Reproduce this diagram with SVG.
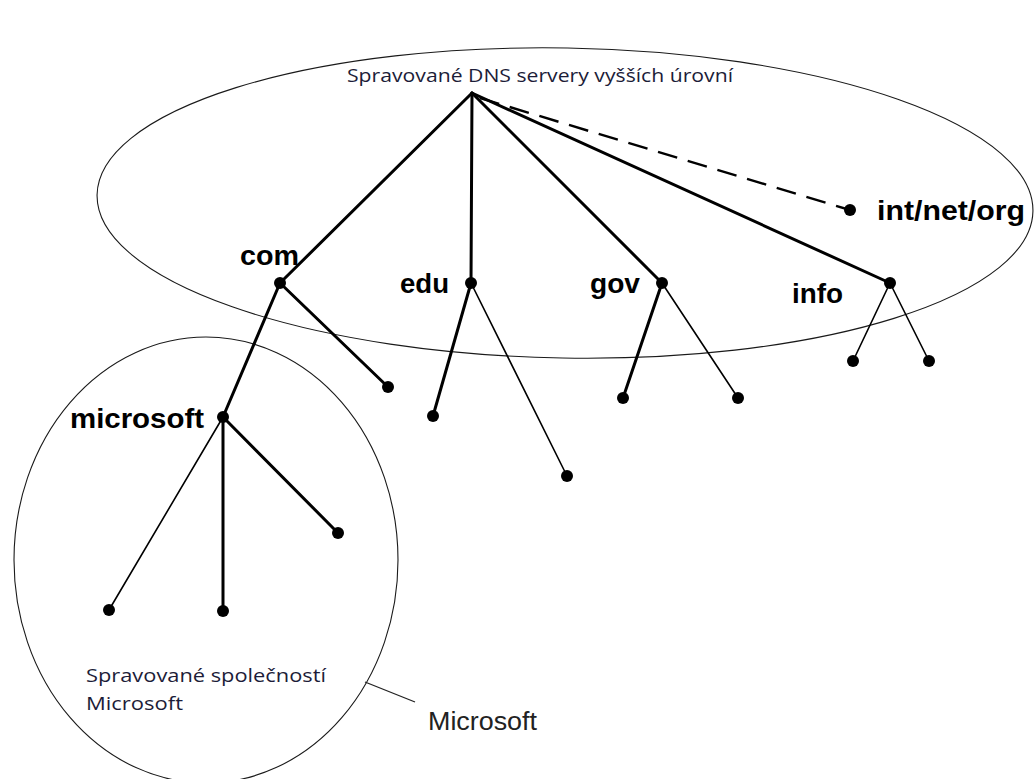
<svg xmlns="http://www.w3.org/2000/svg" width="1035" height="779" viewBox="0 0 1035 779">
<style>
.zone{fill:none;stroke:#1a1a1a;stroke-width:1.1}
.thick{stroke:#000;stroke-width:3;fill:none;stroke-linecap:round}
.thin{stroke:#000;stroke-width:1.6;fill:none;stroke-linecap:round}
.dash{stroke:#000;stroke-width:2.4;fill:none;stroke-dasharray:20 11}
.dot{fill:#000}
.lbl{font-family:"Liberation Sans",Arial,sans-serif;font-weight:bold;font-size:28px;fill:#000}
.note{font-family:"Open Sans","Noto Sans",sans-serif;font-size:19px;fill:#1c1c38}
.ms{font-family:"Liberation Sans",Arial,sans-serif;font-size:25px;fill:#222}
</style>
<rect width="1035" height="779" fill="#fff"/>
<g id="zones">
<ellipse class="zone" cx="565" cy="203" rx="468" ry="155" transform="rotate(1 565 203)"/>
<ellipse class="zone" cx="206" cy="560" rx="192" ry="223"/>
<line x1="365" y1="682" x2="415" y2="702" stroke="#222" stroke-width="1.2"/>
</g>
<g id="connectors">
<line class="thick" x1="472" y1="93" x2="280" y2="283"/>
<line class="thick" x1="472" y1="93" x2="471" y2="283"/>
<line class="thick" x1="472" y1="93" x2="662" y2="283"/>
<line class="thick" x1="472" y1="93" x2="890" y2="283"/>
<line class="dash" x1="480" y1="98" x2="850" y2="210"/>
<line class="thick" x1="280" y1="283" x2="223" y2="417"/>
<line class="thick" x1="280" y1="283" x2="388" y2="387"/>
<line class="thick" x1="471" y1="283" x2="433" y2="416"/>
<line class="thin" x1="471" y1="283" x2="567" y2="476"/>
<line class="thick" x1="662" y1="283" x2="623" y2="398"/>
<line class="thin" x1="662" y1="283" x2="738" y2="398"/>
<line class="thin" x1="890" y1="283" x2="853" y2="361"/>
<line class="thin" x1="890" y1="283" x2="929" y2="361"/>
<line class="thin" x1="223" y1="417" x2="109" y2="610"/>
<line class="thick" x1="223" y1="417" x2="223" y2="611"/>
<line class="thick" x1="223" y1="417" x2="338" y2="533"/>
</g>
<g id="root"><text class="note" x="347" y="82" textLength="386" lengthAdjust="spacingAndGlyphs">Spravované DNS servery vyšších úrovní</text></g>
<g id="com"><circle class="dot" cx="280" cy="283" r="6"/><text class="lbl" x="240" y="265" textLength="59" lengthAdjust="spacingAndGlyphs">com</text></g>
<g id="edu"><circle class="dot" cx="471" cy="283" r="6"/><text class="lbl" x="400" y="293" textLength="49" lengthAdjust="spacingAndGlyphs">edu</text></g>
<g id="gov"><circle class="dot" cx="662" cy="283" r="6"/><text class="lbl" x="590" y="293" textLength="50" lengthAdjust="spacingAndGlyphs">gov</text></g>
<g id="info"><circle class="dot" cx="890" cy="283" r="6"/><text class="lbl" x="792" y="303" textLength="51" lengthAdjust="spacingAndGlyphs">info</text></g>
<g id="intnetorg"><circle class="dot" cx="850" cy="210" r="6"/><text class="lbl" x="877" y="220" textLength="148" lengthAdjust="spacingAndGlyphs">int/net/org</text></g>
<g id="microsoft"><circle class="dot" cx="223" cy="417" r="6"/><text class="lbl" x="70" y="428" textLength="134" lengthAdjust="spacingAndGlyphs">microsoft</text></g>
<g id="leaves">
<circle class="dot" cx="388" cy="387" r="6"/>
<circle class="dot" cx="433" cy="416" r="6"/>
<circle class="dot" cx="567" cy="476" r="6"/>
<circle class="dot" cx="623" cy="398" r="6"/>
<circle class="dot" cx="738" cy="398" r="6"/>
<circle class="dot" cx="853" cy="361" r="6"/>
<circle class="dot" cx="929" cy="361" r="6"/>
<circle class="dot" cx="109" cy="610" r="6"/>
<circle class="dot" cx="223" cy="611" r="6"/>
<circle class="dot" cx="338" cy="533" r="6"/>
</g>
<g id="ms-zone-labels">
<text class="note" x="86" y="682" textLength="240" lengthAdjust="spacingAndGlyphs">Spravované společností</text>
<text class="note" x="86" y="710" textLength="97" lengthAdjust="spacingAndGlyphs">Microsoft</text>
<text class="ms" x="428" y="730" textLength="109" lengthAdjust="spacingAndGlyphs">Microsoft</text>
</g>
</svg>
